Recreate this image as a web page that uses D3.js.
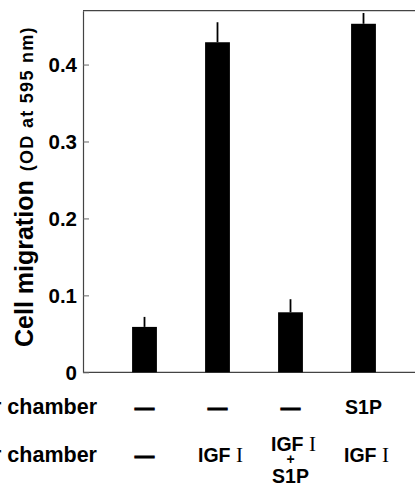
<!DOCTYPE html>
<html>
<head>
    <meta charset="utf-8" />
    <title>Cell migration</title>
    <style>
        html, body {
            margin: 0;
            padding: 0;
            background-color: #fff;
        }
        .chart text {
            font-family: 'Liberation Sans', Arial, sans-serif;
            font-weight: bold;
            fill: #000;
        }
        .chart .roman {
            font-family: 'Liberation Serif', 'Times New Roman', serif;
            font-weight: normal;
        }
    </style>
</head>
<body>
    <div class="chart"></div>
    <script src="https://d3js.org/d3.v7.min.js"></script>
    <script>
        // values
        var groups = ["ctrl", "igf", "igfS1p", "s1pUpper"];
        var migration = [0.059, 0.429, 0.078, 0.453];
        var errors = [0.013, 0.026, 0.017, 0.014];
        var yTicks = [0, 0.1, 0.2, 0.3, 0.4];
        var yTickLabels = ["0", "0.1", "0.2", "0.3", "0.4"];
        var upperChamber = ["—", "—", "—", "S1P"];
        var lowerChamber = [["—"], ["IGF I"], ["IGF I", "+", "S1P"], ["IGF I"]];

        var width = 415;
        var height = 487;
        var plotLeft = 83, plotTop = 10.7, plotBottom = 372.3;

        var svg = d3.select(".chart")
            .append("svg")
            .attr("width", width)
            .attr("height", height);

        var x = d3.scaleBand()
            .domain(groups)
            .range([108, 400])
            .paddingInner(0.66)
            .paddingOuter(0.33);

        var y = d3.scaleLinear()
            .domain([0, 0.47])
            .range([plotBottom, plotTop]);

        // top frame line and baseline
        svg.append("line")
            .attr("x1", plotLeft).attr("x2", width)
            .attr("y1", y(0.47)).attr("y2", y(0.47))
            .attr("stroke", "#444").attr("stroke-width", 1.2);
        svg.append("line")
            .attr("x1", plotLeft).attr("x2", width)
            .attr("y1", y(0)).attr("y2", y(0))
            .attr("stroke", "#444").attr("stroke-width", 1.2);

        var yAxis = svg.append("g")
            .attr("transform", "translate(" + plotLeft + ",0)")
            .call(d3.axisLeft(y)
                .tickValues(yTicks)
                .tickFormat(function(d, i) { return yTickLabels[i]; })
                .tickSizeInner(-6)
                .tickSizeOuter(0)
                .tickPadding(6));
        yAxis.select(".domain").attr("stroke", "#444").attr("stroke-width", 1.2);
        yAxis.selectAll(".tick line").attr("stroke", "#666");
        yAxis.selectAll(".tick text")
            .attr("font-size", 20.5)
            .attr("font-family", null)
            .attr("dy", "0.35em");

        // bars
        svg.selectAll("rect.bar")
            .data(groups)
            .enter()
            .append("rect")
            .attr("class", "bar")
            .attr("x", function(d) { return x(d); })
            .attr("width", x.bandwidth())
            .attr("y", function(d, i) { return y(migration[i]); })
            .attr("height", function(d, i) { return y(0) - y(migration[i]); })
            .attr("fill", "#000");

        // error bars (upper half only)
        svg.selectAll("line.err")
            .data(groups)
            .enter()
            .append("line")
            .attr("class", "err")
            .attr("x1", function(d) { return x(d) + x.bandwidth() / 2; })
            .attr("x2", function(d) { return x(d) + x.bandwidth() / 2; })
            .attr("y1", function(d, i) { return y(migration[i]); })
            .attr("y2", function(d, i) { return y(migration[i] + errors[i]); })
            .attr("stroke", "#000")
            .attr("stroke-width", 1.8);

        // y axis title
        var title = svg.append("text")
            .attr("transform", "translate(33,347) rotate(-90)")
            .attr("text-anchor", "start");
        title.append("tspan")
            .attr("font-size", 25)
            .text("Cell migration");
        title.append("tspan")
            .attr("font-size", 18)
            .attr("dx", 9)
            .attr("letter-spacing", 1.3)
            .text("(OD at 595 nm)");

        // row headings (cut off at the left edge)
        svg.append("text")
            .attr("x", 97).attr("y", 414)
            .attr("text-anchor", "end")
            .attr("font-size", 21.5)
            .text("Upper chamber");
        svg.append("text")
            .attr("x", 97).attr("y", 462)
            .attr("text-anchor", "end")
            .attr("font-size", 21.5)
            .text("Lower chamber");

        function addLabel(sel, s) {
            var parts = s.split(" I");
            if (parts.length > 1) {
                sel.append("tspan").text(parts[0] + " ");
                sel.append("tspan").attr("class", "roman").attr("font-size", 21).text("I");
            } else {
                sel.text(s);
            }
            if (s === "—") sel.attr("stroke", "#000").attr("stroke-width", 0.9);
        }

        svg.selectAll("text.upper")
            .data(upperChamber)
            .enter()
            .append("text")
            .attr("class", "upper")
            .attr("x", function(d, i) { return x(groups[i]) + x.bandwidth() / 2; })
            .attr("y", 414)
            .attr("text-anchor", "middle")
            .attr("font-size", 19.5)
            .each(function(d) { addLabel(d3.select(this), d); });

        var lower = svg.selectAll("g.lower")
            .data(lowerChamber)
            .enter()
            .append("g")
            .attr("class", "lower");
        lower.each(function(lines, i) {
            var g = d3.select(this);
            var cx = x(groups[i]) + x.bandwidth() / 2;
            var ys = lines.length === 1 ? [462] : [451, 464, 483];
            lines.forEach(function(s, j) {
                var t = g.append("text")
                    .attr("x", cx + (s.indexOf(" I") > 0 ? 3 : 0))
                    .attr("y", ys[j])
                    .attr("text-anchor", "middle")
                    .attr("font-size", s === "+" ? 14 : 19.5);
                addLabel(t, s);
            });
        });
    </script>
</body>
</html>
